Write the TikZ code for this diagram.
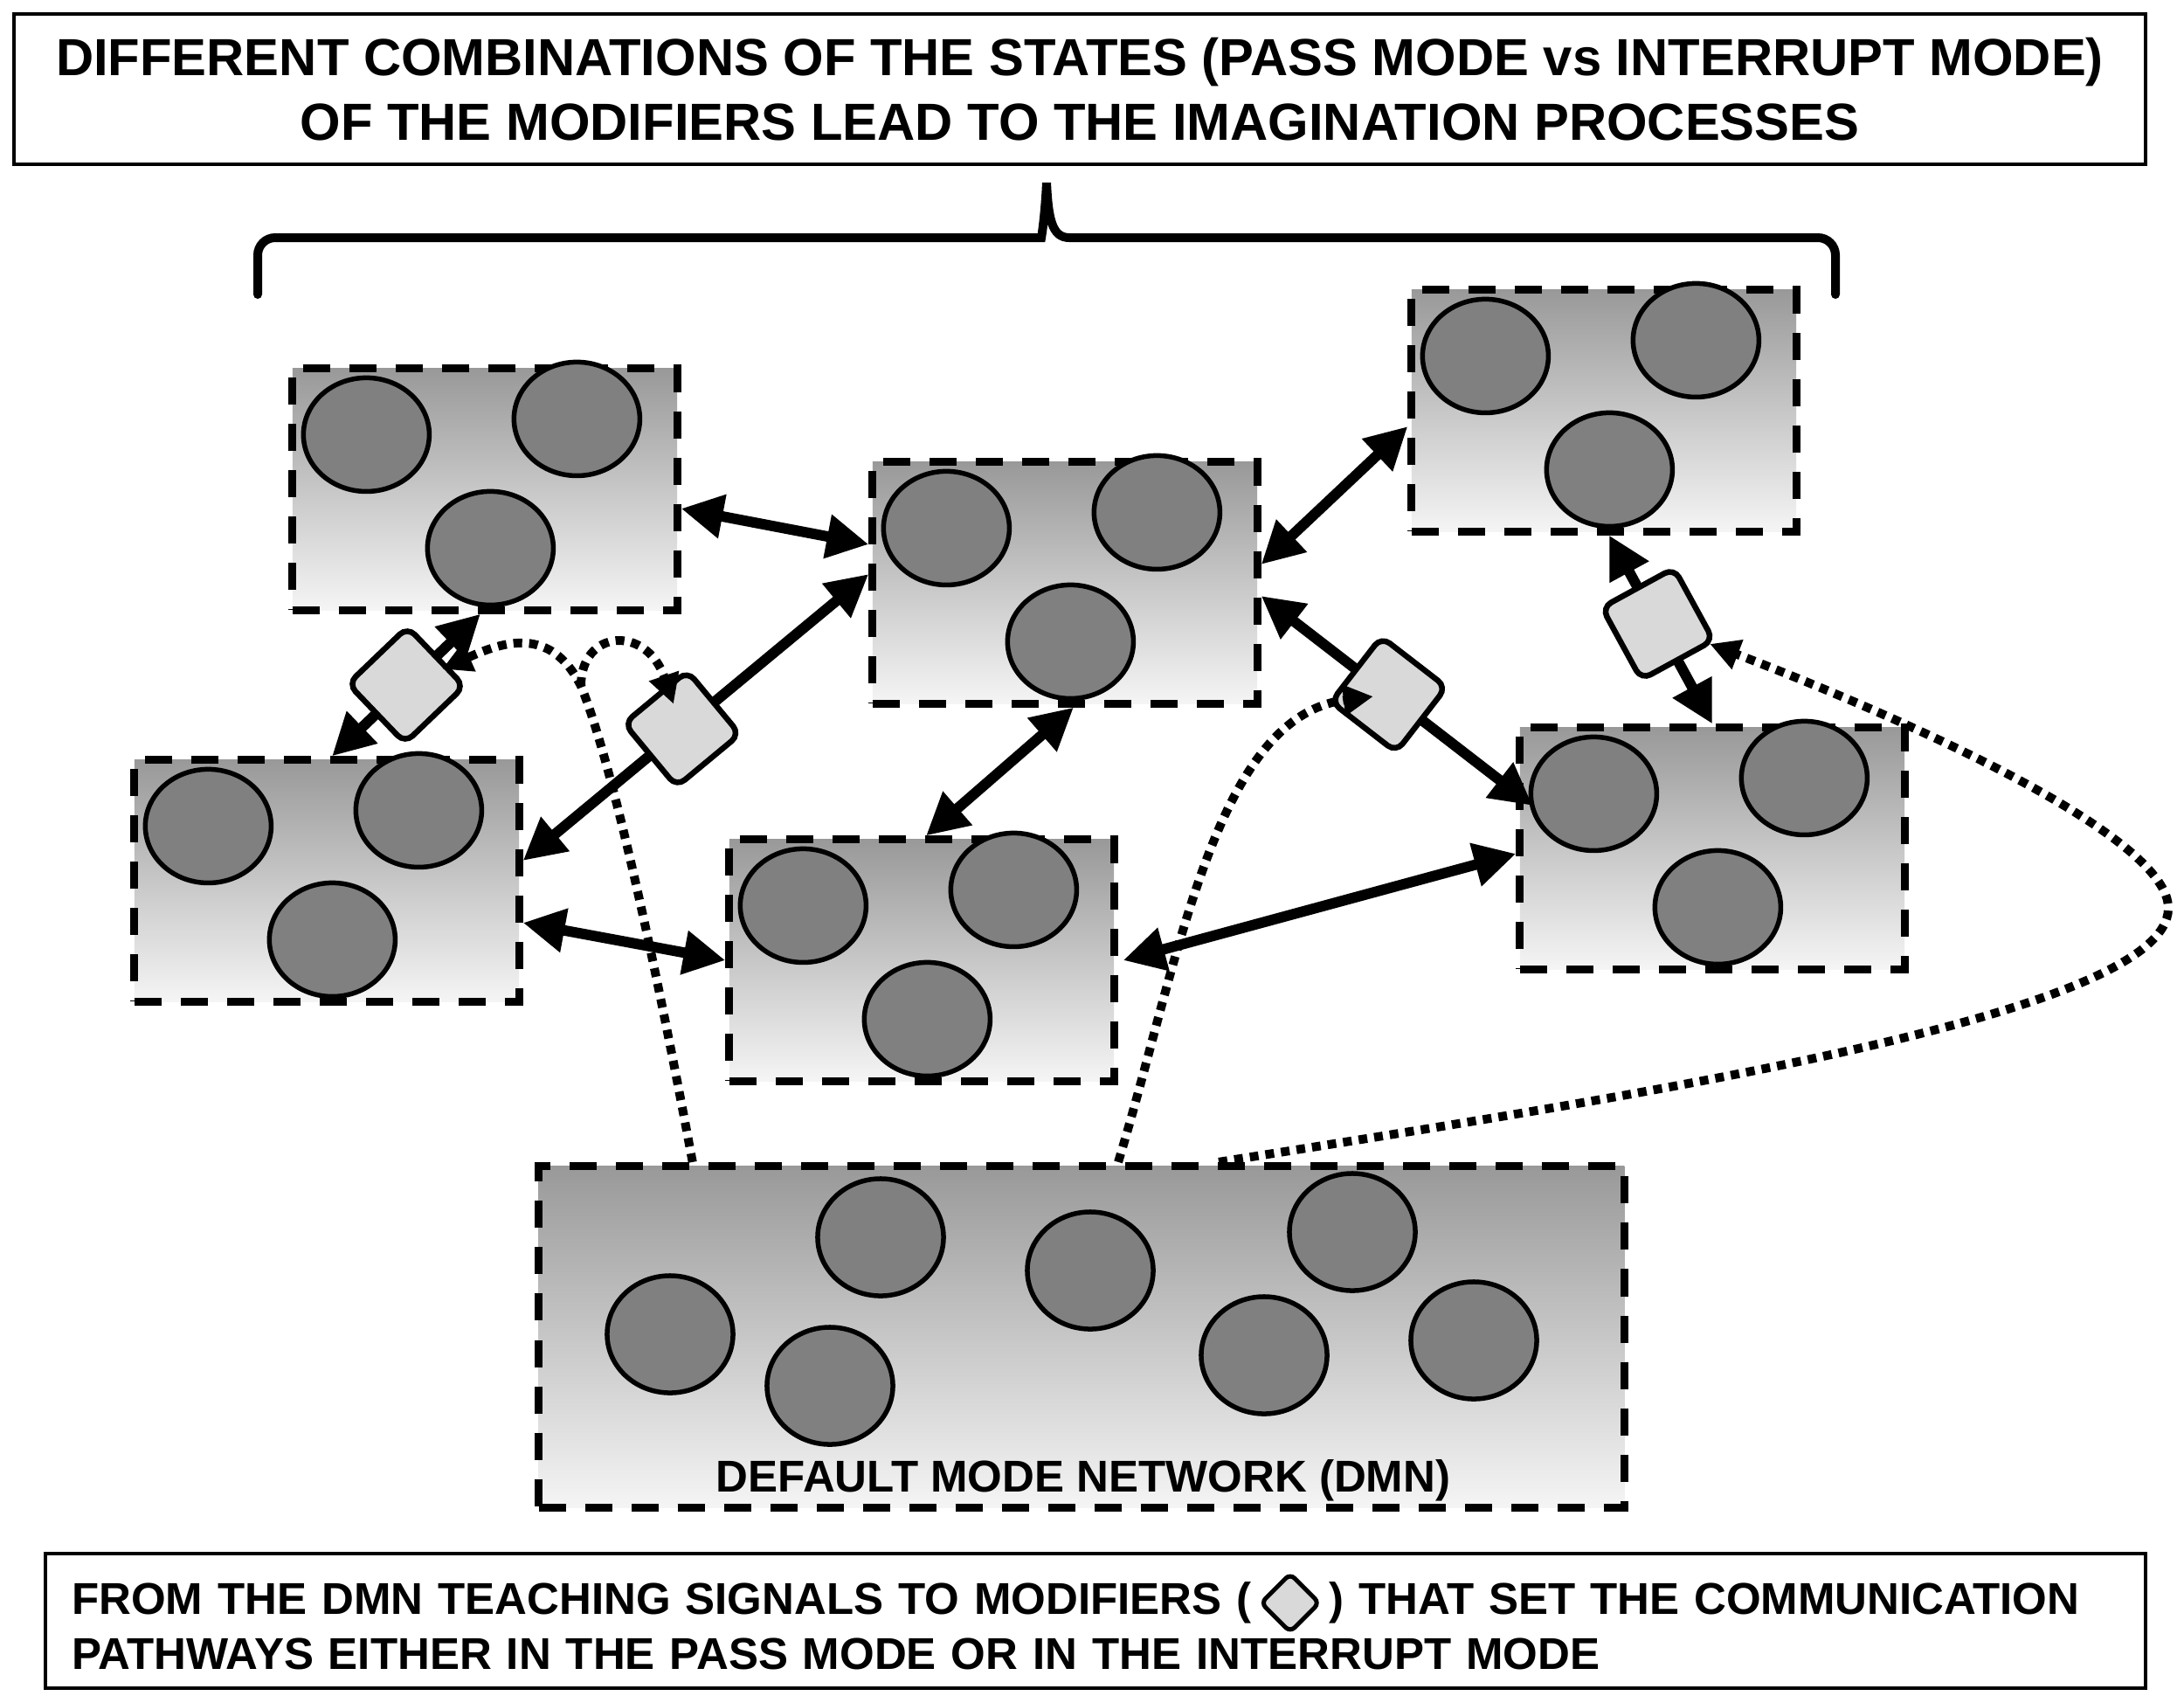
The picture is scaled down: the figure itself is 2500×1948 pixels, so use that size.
\documentclass[tikz,border=0pt]{standalone}
\usepackage{fontspec}
\setmainfont{Liberation Sans}
\usetikzlibrary{arrows.meta,calc}
\tikzset{
  caption/.style={
    draw,
    line width=0.04cm,
    inner sep=0pt,
    font=\fontsize{14.5}{17.9}\selectfont\bfseries
  },
  region/.style={
    draw,
    line width=0.09cm,
    dash pattern=on 0.31cm off 0.22cm,
    top color=black!40,
    bottom color=black!4,
    minimum width=4.4cm,
    minimum height=2.76cm,
    inner sep=0pt
  },
  cell/.style={
    draw,
    fill=black!50,
    line width=0.055cm
  },
  modifier/.style={
    draw,
    fill=black!15,
    rounded corners=0.12cm,
    minimum size=0.94cm,
    line width=0.065cm,
    inner sep=0pt
  },
  link/.style={
    {Triangle[length=4.8mm,width=4.8mm]}-{Triangle[length=4.8mm,width=4.8mm]},
    line width=0.12cm
  },
  teach/.style={
    -{Triangle[length=3.4mm,width=3.4mm]},
    line width=0.1cm,
    dash pattern=on 0.1cm off 0.08cm
  },
  bracket/.style={
    line width=0.1cm,
    line cap=round
  }
}
\newcommand{\cells}[1]{%
  \foreach \dx/\dy in {89/80,330/62,231/210}
    {\draw[cell] ($(#1.north west)+(\dx,\dy)$) ellipse [x radius=0.72cm, y radius=0.65cm];}}
\newcommand{\modicon}{\tikz[baseline=-0.5ex] \node[modifier, rotate=45, minimum size=0.47cm, rounded corners=0.07cm, line width=0.05cm] {};}

\begin{document}
\begin{tikzpicture}[x=0.01cm,y=-0.01cm]
\useasboundingbox (0,0) rectangle (2500,1948);

\node[caption, minimum width=24.39cm, minimum height=1.72cm, align=center, font=\fontsize{17}{21}\selectfont\bfseries] (title) at (1236,102)
  {DIFFERENT COMBINATIONS OF THE STATES (PASS MODE vs INTERRUPT MODE)\\OF THE MODIFIERS LEAD TO THE IMAGINATION PROCESSES};

\draw[bracket] (295,337) [rounded corners=2mm] -- (295,272) -- (1172,272) [sharp corners]
  .. controls (1192,272) and (1196,250) .. (1198,209)
  .. controls (1200,250) and (1204,272) .. (1224,272) [rounded corners=2mm] -- (2101,272) -- (2101,337);

\node[region] (b1) at (555,560) {};
\node[region] (b2) at (1219,667) {};
\node[region] (b3) at (1836,470) {};
\node[region] (b4) at (374,1008) {};
\node[region] (b5) at (1055,1099) {};
\node[region] (b6) at (1960,971) {};
\foreach \b in {b1,b2,b3,b4,b5,b6} {\cells{\b}}

\node[region, minimum width=12.42cm, minimum height=3.91cm] (dmn) at (1238,1530) {};
\foreach \cx/\cy in {767/1527,1008/1416,950/1586,1248/1454,1548/1410,1447/1551,1687/1534}
  \draw[cell] (\cx,\cy) ellipse [x radius=0.72cm, y radius=0.67cm];
\node[font=\fontsize{14.5}{17.9}\selectfont\bfseries, anchor=base] (dmnlabel) at (1240,1707) {DEFAULT MODE NETWORK (DMN)};

\node[caption, minimum width=24.02cm, minimum height=1.54cm, text width=23.42cm, align=left] (note) at (1254,1855)
  {FROM THE DMN TEACHING SIGNALS TO MODIFIERS (\,\modicon\,) THAT SET THE COMMUNICATION\\PATHWAYS EITHER IN THE PASS MODE OR IN THE INTERRUPT MODE};

\draw[link] ([yshift=-0.22cm]b1.east) -- ([yshift=0.44cm]b2.west);
\draw[link] ([xshift=-0.05cm]b1.south) -- node[modifier, sloped] (m1) {} ([xshift=0.06cm]b4.north);
\draw[link] ([yshift=0.1cm]b2.west) -- node[modifier, sloped, pos=0.54] (m2) {} ([yshift=0.23cm]b4.east);
\draw[link] ([yshift=-0.48cm]b4.east) -- (b5.west);
\draw[link] ([xshift=0.1cm]b2.south) -- ([xshift=0.05cm]b5.north);
\draw[link] ([yshift=0.21cm]b2.east) -- ([yshift=-0.18cm]b3.west);
\draw[link] ([yshift=-0.15cm]b2.east) -- node[modifier, sloped, pos=0.47] (m3) {} ([xshift=0.19cm,yshift=0.49cm]b6.west);
\draw[link] ([xshift=0.06cm]b5.east) -- ([yshift=-0.06cm]b6.west);
\draw[link] ([xshift=0.06cm]b3.south) -- node[modifier, sloped, pos=0.47] (m4) {} (b6.north);

\coordinate (fork) at (665,785);
\coordinate (bend) at (2482,1040);
\draw[teach, shorten >=0.45cm] ([xshift=-4.45cm]dmn.north) .. controls (750,1100) and (700,870) .. (fork)
  .. controls (630,715) and (575,735) .. (m1.center);
\draw[teach, shorten >=0.3cm] (fork) .. controls (665,720) and (740,715) .. (m2.center);
\draw[teach, shorten >=0.18cm] ([xshift=0.42cm]dmn.north) .. controls (1350,1100) and (1390,820) .. (m3.center);
\draw[teach, shorten >=0.64cm] ([xshift=1.57cm]dmn.north) .. controls (1900,1250) and (2480,1160) .. (bend)
  .. controls (2484,960) and (2200,830) .. (m4.center);

\end{tikzpicture}
\end{document}
